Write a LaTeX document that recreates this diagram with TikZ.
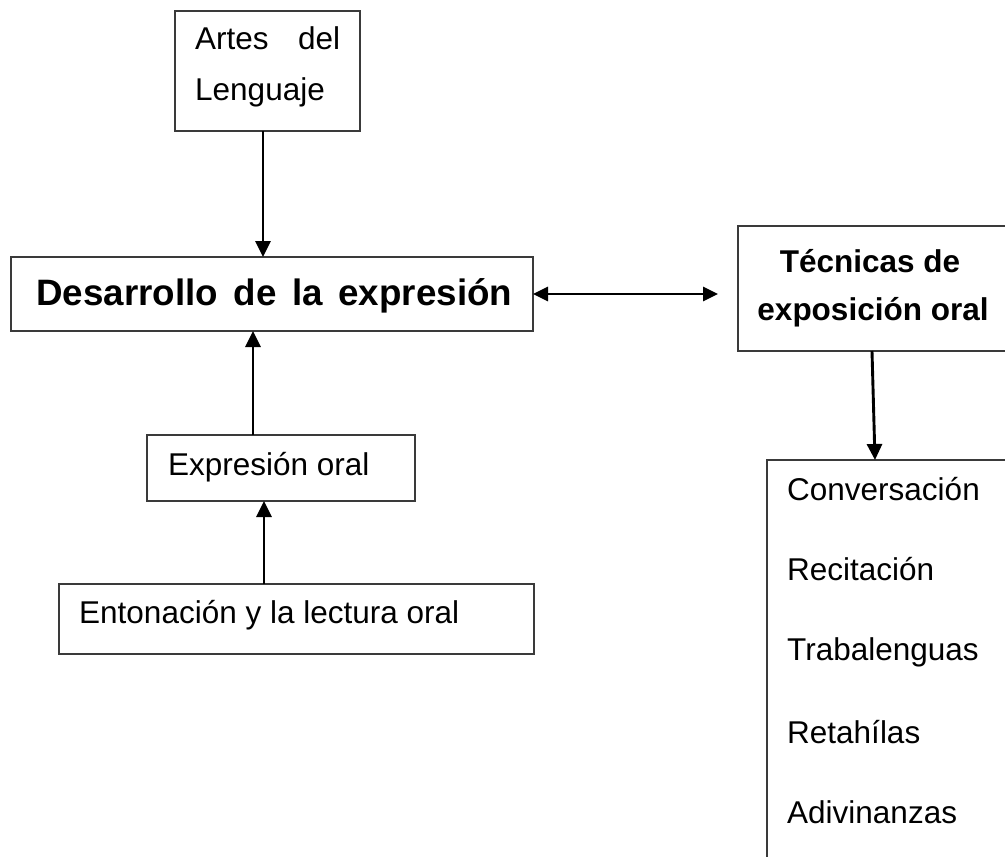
\documentclass[tikz,border=0pt]{standalone}
\usepackage{fontspec}
\setmainfont{Liberation Sans}
\usetikzlibrary{calc,arrows.meta}
\definecolor{frame}{HTML}{3A3A3A}
\tikzset{
  box/.style={draw=frame, line width=1.2pt, rectangle, inner sep=0pt, outer sep=0pt, anchor=north west},
  arr/.style={draw=black, line width=2.9pt, -{Triangle[length=16pt,width=15pt]}},
  dblarr/.style={draw=black, line width=2.9pt, {Triangle[length=15pt,width=14pt]}-{Triangle[length=15pt,width=14pt]}},
  txt/.style={inner sep=0pt, anchor=base west, font=\fontsize{31.5}{38}\selectfont},
  btxt/.style={inner sep=0pt, anchor=base, font=\fontsize{31.5}{38}\selectfont\bfseries},
  bigtxt/.style={inner sep=0pt, anchor=base west, font=\fontsize{36.75}{44}\selectfont\bfseries}
}

\begin{document}
\begin{tikzpicture}[x=1pt, y=-1pt]
  \useasboundingbox (0,0) rectangle (1005,857);

  % boxes
  \node[box, minimum width=185pt, minimum height=120pt] (artes) at (175,11) {};
  \node[box, minimum width=522pt, minimum height=74pt] (des) at (11,257) {};
  \node[box, minimum width=268pt, minimum height=66pt] (expr) at (147,435) {};
  \node[box, minimum width=475pt, minimum height=70pt] (enton) at (59,584) {};
  \node[box, minimum width=268pt, minimum height=125pt] (tec) at (738,226) {};
  \node[box, minimum width=300pt, minimum height=450pt] (lista) at (767,460) {};

  % texts
  \node[txt] (tArtes) at (195,49) {\makebox[145pt][s]{Artes del}};
  \node[txt] (tLeng) at (195,100) {Lenguaje};
  \node[bigtxt] (tDes) at (36,305) {\makebox[476pt][s]{Desarrollo de la expresión}};
  \node[txt] (tExpr) at (168,475) {Expresión oral};
  \node[txt] (tEnton) at (79,623) {Entonación y la lectura oral};
  \node[btxt] (tTec) at (870,272) {Técnicas de};
  \node[btxt] (tExpo) at (873,320) {exposición oral};
  \foreach \t/\y [count=\i] in {Conversación/500, Recitación/580, Trabalenguas/660, Retahílas/743, Adivinanzas/823}
    \node[txt] (item\i) at (787,\y) {\t};

  % connectors
  \coordinate (xa) at (263,0);
  \coordinate (xb) at (253,0);
  \coordinate (xc) at (264,0);
  \coordinate (dblend) at (718,294);
  \draw[arr] (artes.south -| xa) -- (des.north -| xa);
  \draw[arr] (expr.north -| xb) -- (des.south -| xb);
  \draw[arr] (enton.north -| xc) -- (expr.south -| xc);
  \draw[dblarr] (des.east) -- (dblend);
  \draw[arr] (tec.south) -- ($(lista.north west)+(108,0)$);
\end{tikzpicture}
\end{document}
